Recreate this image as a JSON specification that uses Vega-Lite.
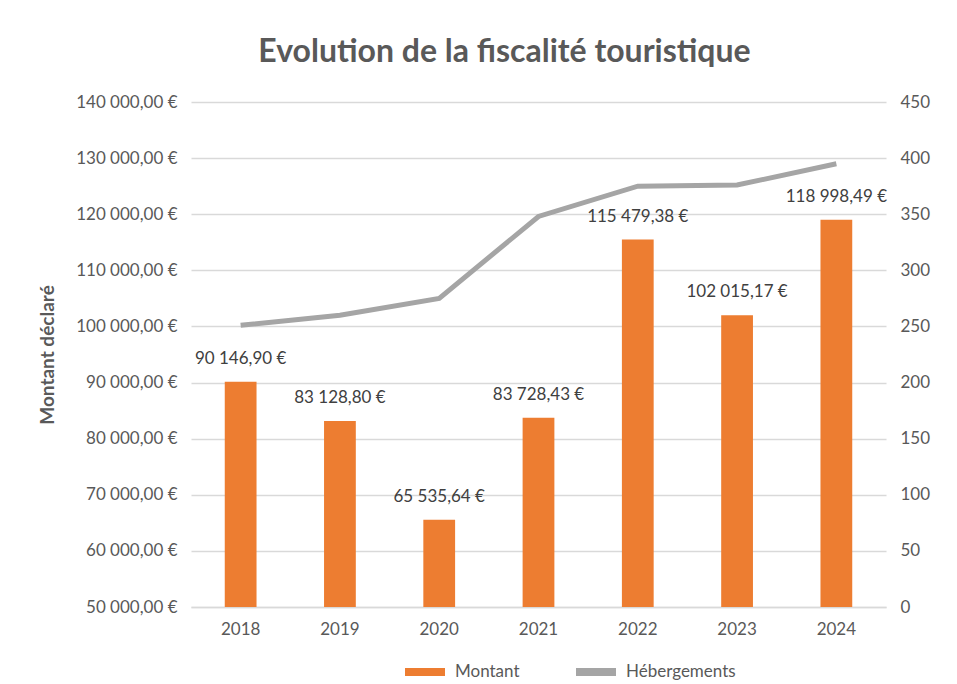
{
  "$schema": "https://vega.github.io/schema/vega-lite/v6.json",
  "width": 695,
  "height": 505,
  "padding": {"left": 38, "top": 36, "right": 10, "bottom": 0},
  "background": "white",
  "title": {
    "text": "Evolution de la fiscalité touristique",
    "font": "Lato",
    "fontSize": 32,
    "fontWeight": "bold",
    "color": "#595959",
    "anchor": "middle",
    "dx": -34,
    "offset": 24
  },
  "data": {
    "values": [
      {"annee": "2018", "montant": 90146.90, "hebergements": 251},
      {"annee": "2019", "montant": 83128.80, "hebergements": 260},
      {"annee": "2020", "montant": 65535.64, "hebergements": 275},
      {"annee": "2021", "montant": 83728.43, "hebergements": 348},
      {"annee": "2022", "montant": 115479.38, "hebergements": 375},
      {"annee": "2023", "montant": 102015.17, "hebergements": 376},
      {"annee": "2024", "montant": 118998.49, "hebergements": 395}
    ]
  },
  "encoding": {
    "x": {
      "field": "annee",
      "type": "ordinal",
      "scale": {"paddingInner": 0.68, "paddingOuter": 0.34},
      "axis": {
        "title": null,
        "labelAngle": 0,
        "labelFont": "Lato",
        "labelFontSize": 17,
        "labelColor": "#595959",
        "labelPadding": 14,
        "ticks": false,
        "domainColor": "#D9D9D9",
        "domainWidth": 1.5,
        "grid": false
      }
    }
  },
  "layer": [
    {
      "layer": [
        {
          "mark": {"type": "bar", "color": "#ED7D31"},
          "encoding": {
            "y": {
              "field": "montant",
              "type": "quantitative",
              "scale": {"domain": [50000, 140000], "zero": false, "nice": false},
              "axis": {
                "title": "Montant déclaré",
                "titleFont": "Lato",
                "titleFontSize": 19,
                "titleFontWeight": "bold",
                "titleColor": "#595959",
                "titlePadding": 18,
                "format": "$,.2f",
                "values": [50000, 60000, 70000, 80000, 90000, 100000, 110000, 120000, 130000, 140000],
                "labelFont": "Lato",
                "labelFontSize": 17,
                "labelColor": "#595959",
                "labelPadding": 14,
                "ticks": false,
                "domain": false,
                "grid": true,
                "gridColor": "#D9D9D9",
                "gridWidth": 1.5
              }
            },
            "y2": {"datum": 50000},
            "color": {
              "datum": "Montant",
              "scale": {"domain": ["Montant", "Hébergements"], "range": ["#ED7D31", "#A5A5A5"]},
              "legend": {
                "orient": "none",
                "legendX": 210,
                "legendY": 546,
                "direction": "horizontal",
                "title": null,
                "labelFont": "Lato",
                "labelFontSize": 17,
                "labelColor": "#595959",
                "symbolType": "stroke",
                "symbolSize": 1600,
                "symbolStrokeWidth": 8,
                "columnPadding": 40,
                "labelOffset": 6
              }
            }
          }
        },
        {
          "mark": {"type": "text", "dy": -23, "font": "Lato", "fontSize": 17, "color": "#404040"},
          "encoding": {
            "y": {"field": "montant", "type": "quantitative"},
            "text": {"field": "montant", "type": "quantitative", "format": "$,.2f"}
          }
        }
      ]
    },
    {
      "mark": {"type": "line", "strokeWidth": 5, "interpolate": "linear"},
      "encoding": {
        "y": {
          "field": "hebergements",
          "type": "quantitative",
          "scale": {"domain": [0, 450], "nice": false},
          "axis": {
            "orient": "right",
            "title": null,
            "values": [0, 50, 100, 150, 200, 250, 300, 350, 400, 450],
            "labelFont": "Lato",
            "labelFontSize": 17,
            "labelColor": "#595959",
            "labelPadding": 14,
            "ticks": false,
            "domain": false,
            "grid": false
          }
        },
        "color": {"datum": "Hébergements"}
      }
    }
  ],
  "resolve": {"scale": {"y": "independent"}},
  "config": {
    "locale": {
      "number": {
        "decimal": ",",
        "thousands": "\u00a0",
        "grouping": [3],
        "currency": ["", "\u00a0€"]
      }
    },
    "view": {"stroke": null}
  }
}
